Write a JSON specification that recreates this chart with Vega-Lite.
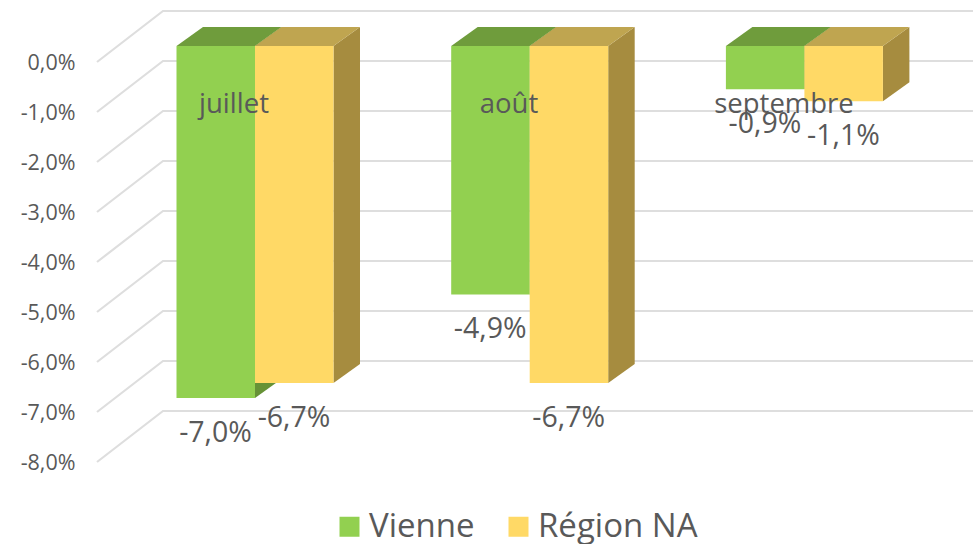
{
"$schema":"https://vega.github.io/schema/vega-lite/v6.json",
"width":973,"height":544,"autosize":"none","padding":0,"background":"#ffffff",
"config":{"view":{"stroke":null},"font":"Open Sans"},
"datasets":{
"bars":[
{"month":"juillet","serie":"Vienne","value":-7.0},
{"month":"juillet","serie":"Région NA","value":-6.7},
{"month":"août","serie":"Vienne","value":-4.94},
{"month":"août","serie":"Région NA","value":-6.7},
{"month":"septembre","serie":"Vienne","value":-0.86},
{"month":"septembre","serie":"Région NA","value":-1.1}],
"ticks":[{"tick":0},{"tick":-1},{"tick":-2},{"tick":-3},{"tick":-4},{"tick":-5},{"tick":-6},{"tick":-7},{"tick":-8}]
},
"resolve":{"scale":{"y":"independent"}},
"layer":[
{"data":{"name":"ticks"},
 "transform":[{"calculate":"[0,1,2]","as":"k"},{"flatten":["k"]},
  {"calculate":"[97,163,973][datum.k]","as":"px"},
  {"calculate":"datum.tick+(datum.k>0?1.02:0)","as":"py"}],
 "mark":{"type":"line","stroke":"#DEDEDE","strokeWidth":2.2,"interpolate":"linear"},
 "encoding":{
  "x":{"field":"px","type":"quantitative","scale":{"domain":[0,973],"range":[0,973]},"axis":null},
  "y":{"field":"py","type":"quantitative","scale":{"domain":[-9.64,1.24],"nice":false,"zero":false},
   "axis":{"orient":"left","offset":-75,"values":[0,-1,-2,-3,-4,-5,-6,-7,-8],"domain":false,"ticks":false,"grid":false,"title":null,"labelPadding":0,"labelOffset":1,"labelFontSize":21.5,"labelColor":"#595959","labelFont":"Open Sans","labelExpr":"replace(replace(format(datum.value,'.1f'),'.',','),'\u2212','-')+'%'"}},
  "detail":{"field":"tick"},
  "order":{"field":"k"}}},
{"data":{"name":"bars"},
 "transform":[
  {"calculate":"indexof(['juillet','août','septembre'],datum.month)","as":"m"},
  {"calculate":"datum.serie==='Vienne'?0:1","as":"s"},
  {"calculate":"176.5+274.7*datum.m+78.5*datum.s","as":"x0"},
  {"calculate":"datum.x0+78.5","as":"x1"},
  {"calculate":"replace(replace(format(datum.value,'.1f'),'.',','),'\u2212','-')+'%'","as":"lab"},
  {"calculate":"0","as":"zero"}],
 "layer":[
  {"transform":[{"calculate":"[0,1]","as":"d"},{"flatten":["d"]},
    {"calculate":"datum.x1+26.5*datum.d","as":"sx"},
    {"calculate":"datum.value+0.378*datum.d","as":"sy"},
    {"calculate":"0.378*datum.d","as":"sy2"},
    {"calculate":"datum.month+datum.serie","as":"id"}],
   "mark":{"type":"area","orient":"vertical"},
   "encoding":{
    "x":{"field":"sx","type":"quantitative","scale":{"domain":[0,973],"range":[0,973]},"axis":null},
    "y":{"field":"sy","type":"quantitative","scale":{"domain":[-9.9006,0.9145],"nice":false,"zero":false},"axis":null},
    "y2":{"field":"sy2"},
    "detail":{"field":"id"},
    "fill":{"condition":{"test":"datum.serie==='Vienne'","value":"#669236"},"value":"#A68C3F"}}},
  {"transform":[{"calculate":"[0,1]","as":"d"},{"flatten":["d"]},
    {"calculate":"datum.x0+26.5*datum.d","as":"tx"},
    {"calculate":"datum.x1+26.5*datum.d","as":"tx2"},
    {"calculate":"0.378*datum.d","as":"ty"},
    {"calculate":"datum.month+datum.serie","as":"id"}],
   "mark":{"type":"area","orient":"horizontal"},
   "encoding":{
    "x":{"field":"tx","type":"quantitative","scale":{"domain":[0,973],"range":[0,973]},"axis":null},
    "x2":{"field":"tx2"},
    "y":{"field":"ty","type":"quantitative","scale":{"domain":[-9.9006,0.9145],"nice":false,"zero":false},"axis":null},
    "detail":{"field":"id"},
    "fill":{"condition":{"test":"datum.serie==='Vienne'","value":"#6F9C3C"},"value":"#BFA550"}}},
  {"mark":{"type":"rect"},
   "encoding":{
    "x":{"field":"x0","type":"quantitative","scale":{"domain":[0,973],"range":[0,973]},"axis":null},
    "x2":{"field":"x1"},
    "y":{"field":"value","type":"quantitative","scale":{"domain":[-9.9006,0.9145],"nice":false,"zero":false},"axis":null},
    "y2":{"field":"zero"},
    "color":{"field":"serie","type":"nominal","scale":{"domain":["Vienne","Région NA"],"range":["#92D050","#FFD966"]},
     "legend":{"orient":"none","legendX":333,"legendY":510,"direction":"horizontal","title":null,"symbolType":"square","symbolSize":400,"symbolStrokeWidth":0,"symbolOpacity":1,"labelFontSize":33,"labelColor":"#595959","labelFont":"Open Sans","columnPadding":27,"labelOffset":3}}}},
  {"transform":[{"calculate":"datum.x0+39","as":"lx"}],
   "mark":{"type":"text","fontSize":28.5,"color":"#595959","baseline":"middle","align":"center","dy":35},
   "encoding":{
    "x":{"field":"lx","type":"quantitative","scale":{"domain":[0,973],"range":[0,973]},"axis":null},
    "y":{"field":"value","type":"quantitative","scale":{"domain":[-9.9006,0.9145],"nice":false,"zero":false},"axis":null},
    "text":{"field":"lab"}}},
  {"transform":[{"filter":"datum.s===0"},{"calculate":"234+275*datum.m","as":"cx"},{"calculate":"-1.17","as":"cy"}],
   "mark":{"type":"text","fontSize":27.5,"color":"#595959","baseline":"middle","align":"center"},
   "encoding":{
    "x":{"field":"cx","type":"quantitative","scale":{"domain":[0,973],"range":[0,973]},"axis":null},
    "y":{"field":"cy","type":"quantitative","scale":{"domain":[-9.9006,0.9145],"nice":false,"zero":false},"axis":null},
    "text":{"field":"month"}}}
 ]}
]}
